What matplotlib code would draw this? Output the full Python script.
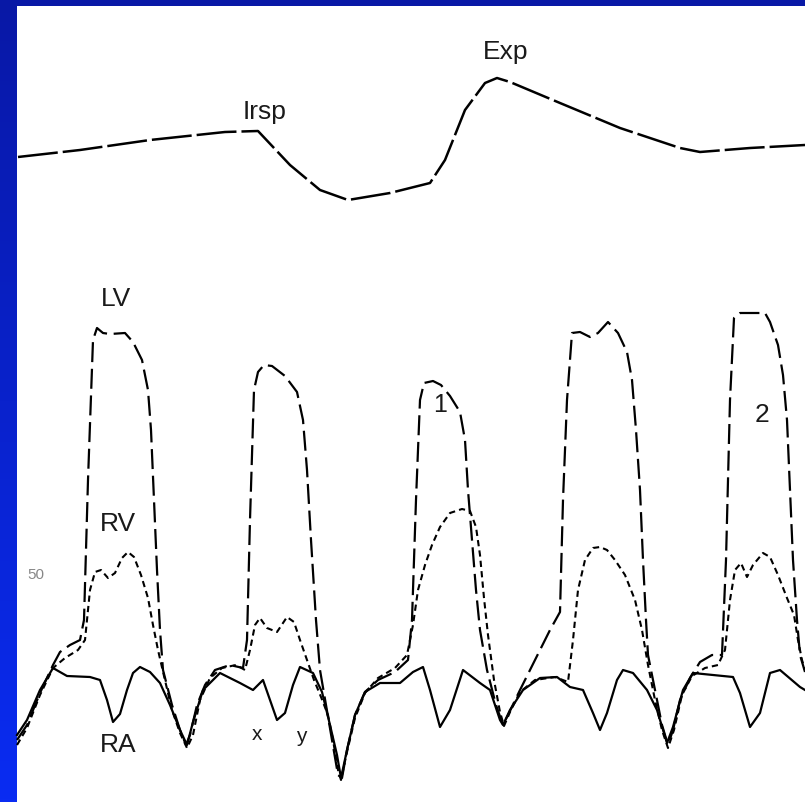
import matplotlib
matplotlib.use('Agg')
import matplotlib.pyplot as plt
import numpy as np

# Respiration trace (top)
resp_x = [18, 80, 150, 225, 258, 290, 320, 348, 390, 430, 445, 465, 485, 497, 510, 560, 620, 680, 700, 750, 805]
resp_y = [157, 150, 140, 132, 131, 165, 190, 200, 193, 183, 160, 110, 83, 78, 82, 103, 128, 148, 152, 148, 145]

# LV pressure (long dashes)
lv_x = [17, 27, 40, 53, 60, 70, 80, 84, 88, 93, 97, 103, 110, 125, 133, 142, 148, 151, 154, 157, 160, 163,
        172, 180, 186, 190, 197, 205, 215, 230, 243, 247, 250, 254, 258, 264, 272, 285, 297, 303, 307, 311,
        316, 320, 326, 332, 338, 342, 347, 355, 365, 378, 395, 408, 412, 416, 420, 424, 433, 441, 450, 460,
        465, 468, 472, 476, 480, 487, 496, 503, 508, 520, 535, 550, 560, 563, 567, 572, 580, 590, 598, 608,
        618, 627, 632, 636, 640, 643, 646, 648, 655, 662, 668, 673, 680, 690, 700, 712, 722, 726, 730, 734,
        740, 755, 765, 770, 778, 783, 787, 790, 793, 797, 800, 805]
lv_y = [740, 725, 693, 665, 652, 645, 640, 620, 480, 340, 328, 333, 334, 333, 342, 360, 390, 430, 500, 570, 630, 670,
        705, 730, 745, 735, 705, 685, 670, 665, 668, 640, 520, 390, 372, 365, 366, 376, 392, 420, 470, 540,
        620, 670, 705, 740, 775, 778, 750, 715, 692, 680, 672, 660, 620, 500, 400, 383, 381, 385, 396, 412,
        440, 490, 540, 590, 630, 670, 705, 725, 715, 690, 660, 630, 612, 500, 400, 333, 332, 337, 333, 322,
        333, 352, 380, 430, 490, 560, 620, 655, 690, 725, 745, 730, 700, 678, 662, 655, 655, 560, 400, 318,
        313, 313, 313, 322, 345, 375, 420, 490, 560, 620, 655, 672]

# RV pressure (short dashes)
rv_x = [17, 27, 40, 53, 65, 78, 85, 90, 95, 101, 108, 115, 122, 128, 134, 141, 148, 153, 158, 164, 172, 180,
        187, 193, 200, 210, 222, 236, 245, 250, 255, 260, 267, 277, 287, 294, 300, 307, 314, 321, 328, 333,
        338, 341, 347, 355, 365, 378, 395, 407, 413, 418, 425, 432, 440, 450, 462, 470, 476, 480, 484, 488,
        494, 500, 504, 510, 520, 535, 555, 568, 573, 578, 585, 593, 600, 607, 615, 625, 635, 642, 648, 655,
        662, 668, 674, 682, 692, 705, 718, 725, 730, 735, 741, 747, 753, 763, 770, 778, 787, 794, 798, 802, 805]
rv_y = [745, 728, 695, 668, 658, 650, 640, 590, 572, 570, 578, 573, 558, 552, 557, 575, 598, 625, 650, 676, 710, 733,
        748, 735, 700, 678, 668, 665, 670, 650, 625, 618, 628, 632, 617, 622, 640, 660, 680, 697, 715, 740,
        770, 780, 752, 718, 693, 678, 668, 655, 625, 590, 565, 545, 527, 513, 509, 511, 527, 555, 598, 635,
        680, 712, 726, 712, 692, 680, 677, 682, 640, 590, 560, 548, 547, 550, 560, 575, 600, 630, 665, 700,
        730, 748, 730, 695, 676, 668, 665, 650, 600, 570, 563, 577, 565, 553, 557, 575, 598, 615, 640, 660, 670]

# RA pressure (solid)
ra_x = [17, 27, 40, 53, 67, 90, 100, 107, 113, 120, 127, 133, 140, 150, 160, 170, 180, 187, 193, 203, 220, 240,
        253, 263, 270, 277, 285, 293, 300, 313, 322, 330, 337, 341, 347, 355, 365, 380, 400, 413, 423, 430, 440,
        450, 463, 480, 490, 500, 503, 510, 523, 540, 557, 570, 583, 593, 600, 607, 617, 623, 633, 647, 657, 667,
        673, 683, 693, 733, 740, 750, 760, 770, 780, 800, 805]
ra_y = [735, 720, 690, 668, 676, 677, 680, 700, 722, 714, 690, 673, 667, 672, 683, 705, 730, 745, 722, 690, 673, 683,
        690, 680, 700, 720, 713, 685, 667, 673, 692, 725, 755, 778, 750, 715, 692, 683, 683, 672, 667, 690, 727,
        710, 670, 683, 690, 720, 725, 710, 690, 678, 677, 687, 690, 713, 730, 713, 680, 670, 673, 690, 710, 743,
        727, 690, 673, 677, 693, 727, 713, 673, 670, 687, 690]

labels = [("Irsp", 265, 112, 19), ("Exp", 506, 52, 19), ("LV", 116, 299, 19), ("RV", 118, 524, 19),
          ("RA", 118, 745, 19), ("x", 257, 734, 15), ("y", 301, 736, 15), ("1", 440, 405, 18),
          ("2", 762, 415, 19)]

fig = plt.figure(figsize=(8.05, 8.02), dpi=100)
ax = fig.add_axes([0, 0, 1, 1])
ax.set_xlim(0, 805)
ax.set_ylim(802, 0)
ax.axis('off')

# Blue slide frame: left strip and top strip with a vertical gradient
grad = np.linspace(0, 1, 256).reshape(-1, 1)
cmap = matplotlib.colors.LinearSegmentedColormap.from_list('slide', ['#0818a6', '#0a2cf2'])
ax.imshow(grad, cmap=cmap, extent=(0, 16, 802, 0), aspect='auto', zorder=0)
ax.fill_between([0, 805], 0, 6, color='#0818a6', lw=0, zorder=0)

ax.plot(resp_x, resp_y, color='black', lw=1.8, ls=(0, (16, 2)))
ax.plot(lv_x, lv_y, color='black', lw=1.6, ls=(0, (9, 3)))
ax.plot(rv_x, rv_y, color='black', lw=1.5, ls=(0, (3, 2)))
ax.plot(ra_x, ra_y, color='black', lw=1.6)

for txt, x, y, size in labels:
    ax.text(x, y, txt, ha='center', va='center', fontsize=size, color='#1a1a1a',
            family=['Liberation Sans Narrow', 'Liberation Sans', 'DejaVu Sans'])
ax.text(36, 575, "50", ha='center', va='center', fontsize=11, color='#555555', alpha=0.7,
        family=['Liberation Sans Narrow', 'Liberation Sans', 'DejaVu Sans'])

fig.savefig('out.png', dpi=100)
